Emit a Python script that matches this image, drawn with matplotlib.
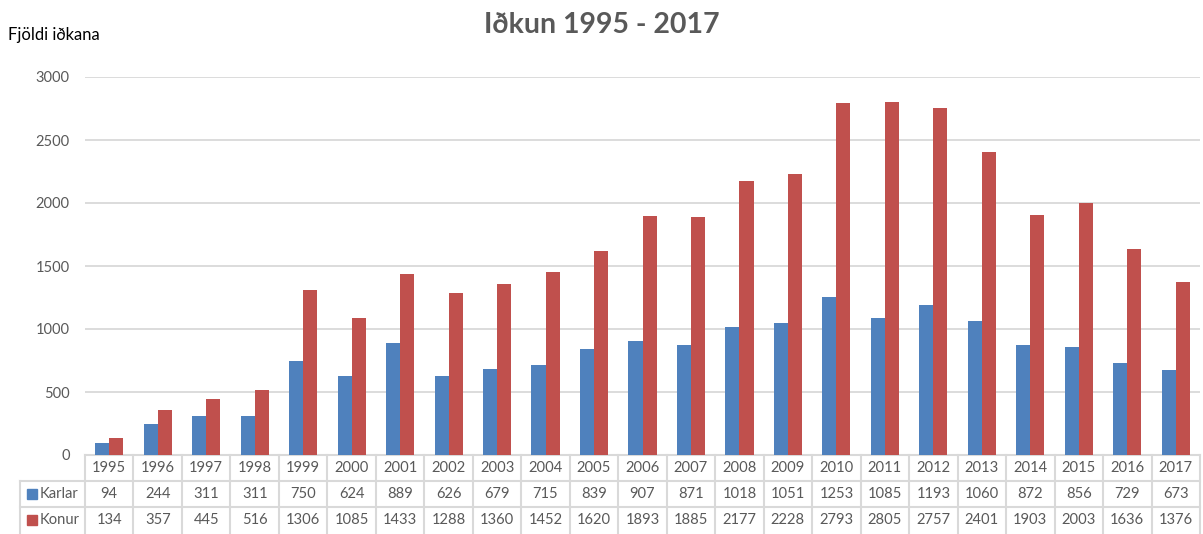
import numpy as np
import matplotlib
matplotlib.use("Agg")
from matplotlib import pyplot as plt
from matplotlib.transforms import blended_transform_factory

plt.rcParams['font.family'] = ['Lato', 'DejaVu Sans']

years = ['1995', '1996', '1997', '1998', '1999', '2000', '2001', '2002', '2003', '2004', '2005', '2006',
         '2007', '2008', '2009', '2010', '2011', '2012', '2013', '2014', '2015', '2016', '2017']
karlar = [94, 244, 311, 311, 750, 624, 889, 626, 679, 715, 839, 907,
          871, 1018, 1051, 1253, 1085, 1193, 1060, 872, 856, 729, 673]
konur = [134, 357, 445, 516, 1306, 1085, 1433, 1288, 1360, 1452, 1620, 1893,
         1885, 2177, 2228, 2793, 2805, 2757, 2401, 1903, 2003, 1636, 1376]
series = [('Karlar', karlar, '#4F81BD'), ('Konur', konur, '#C0504D')]

txt = '#595959'
grid = '#D9D9D9'

fig = plt.figure(figsize=(12.03, 5.34), dpi=100)
ax = fig.add_axes([85/1203, 1 - 455/534, (1200 - 85)/1203, (455 - 77)/534])

x = np.arange(len(years))
w = 0.29
ax.bar(x - w/2, karlar, w, color=series[0][2], zorder=3)
ax.bar(x + w/2, konur, w, color=series[1][2], zorder=3)

ax.set_xlim(-0.5, len(years) - 0.5)
ax.set_ylim(0, 3000)
ax.set_yticks(range(0, 3001, 500))
ax.yaxis.grid(True, color=grid, linewidth=1.3, zorder=0)
ax.set_xticks([])
ax.tick_params(axis='y', length=0, pad=11, labelsize=10.5, labelcolor=txt)
for s in ['top', 'right', 'left']:
    ax.spines[s].set_visible(False)
ax.spines['bottom'].set_color(grid)
ax.spines['bottom'].set_linewidth(1.5)

# data table under the axis
row_h = 26 / 378
tr = blended_transform_factory(ax.transData, ax.transAxes)
lab_left = (20 - 85) / (1200 - 85)   # axes fraction of label column edge
lkw = dict(color=grid, linewidth=1.5, clip_on=False)

for i in range(len(years) + 1):
    ax.plot([i - 0.5, i - 0.5], [0, -3 * row_h], transform=tr, **lkw)
for r in (1, 2):
    ax.plot([lab_left, 1], [-r * row_h, -r * row_h], transform=ax.transAxes, **lkw)
ax.plot([lab_left, lab_left], [-row_h, -3 * row_h], transform=ax.transAxes, **lkw)

fs = 10.6
for i, yr in enumerate(years):
    ax.text(i, -0.5 * row_h, yr, transform=tr, ha='center', va='center', fontsize=fs, color=txt)
for r, (name, vals, col) in enumerate(series, start=1):
    yc = -(r + 0.5) * row_h
    for i, v in enumerate(vals):
        ax.text(i, yc, str(v), transform=tr, ha='center', va='center', fontsize=fs, color=txt)
    ax.add_patch(plt.Rectangle((27/1203, 1 - (455 + (r + 0.5) * 26 + 5) / 534), 10/1203, 10/534,
                               transform=fig.transFigure, color=col, clip_on=False))
    fig.text(40/1203, 1 - (455 + (r + 0.5) * 26) / 534, name, ha='left', va='center',
             fontsize=fs, color=txt)

fig.text(0.5, 1 - 25/534, 'Iðkun 1995 - 2017', ha='center', va='center', fontsize=20.5,
         fontweight='bold', color=txt)
fig.text(8/1203, 1 - 35/534, 'Fjöldi iðkana', ha='left', va='center', fontsize=12, color='black')

fig.savefig('out.png', dpi=100)
